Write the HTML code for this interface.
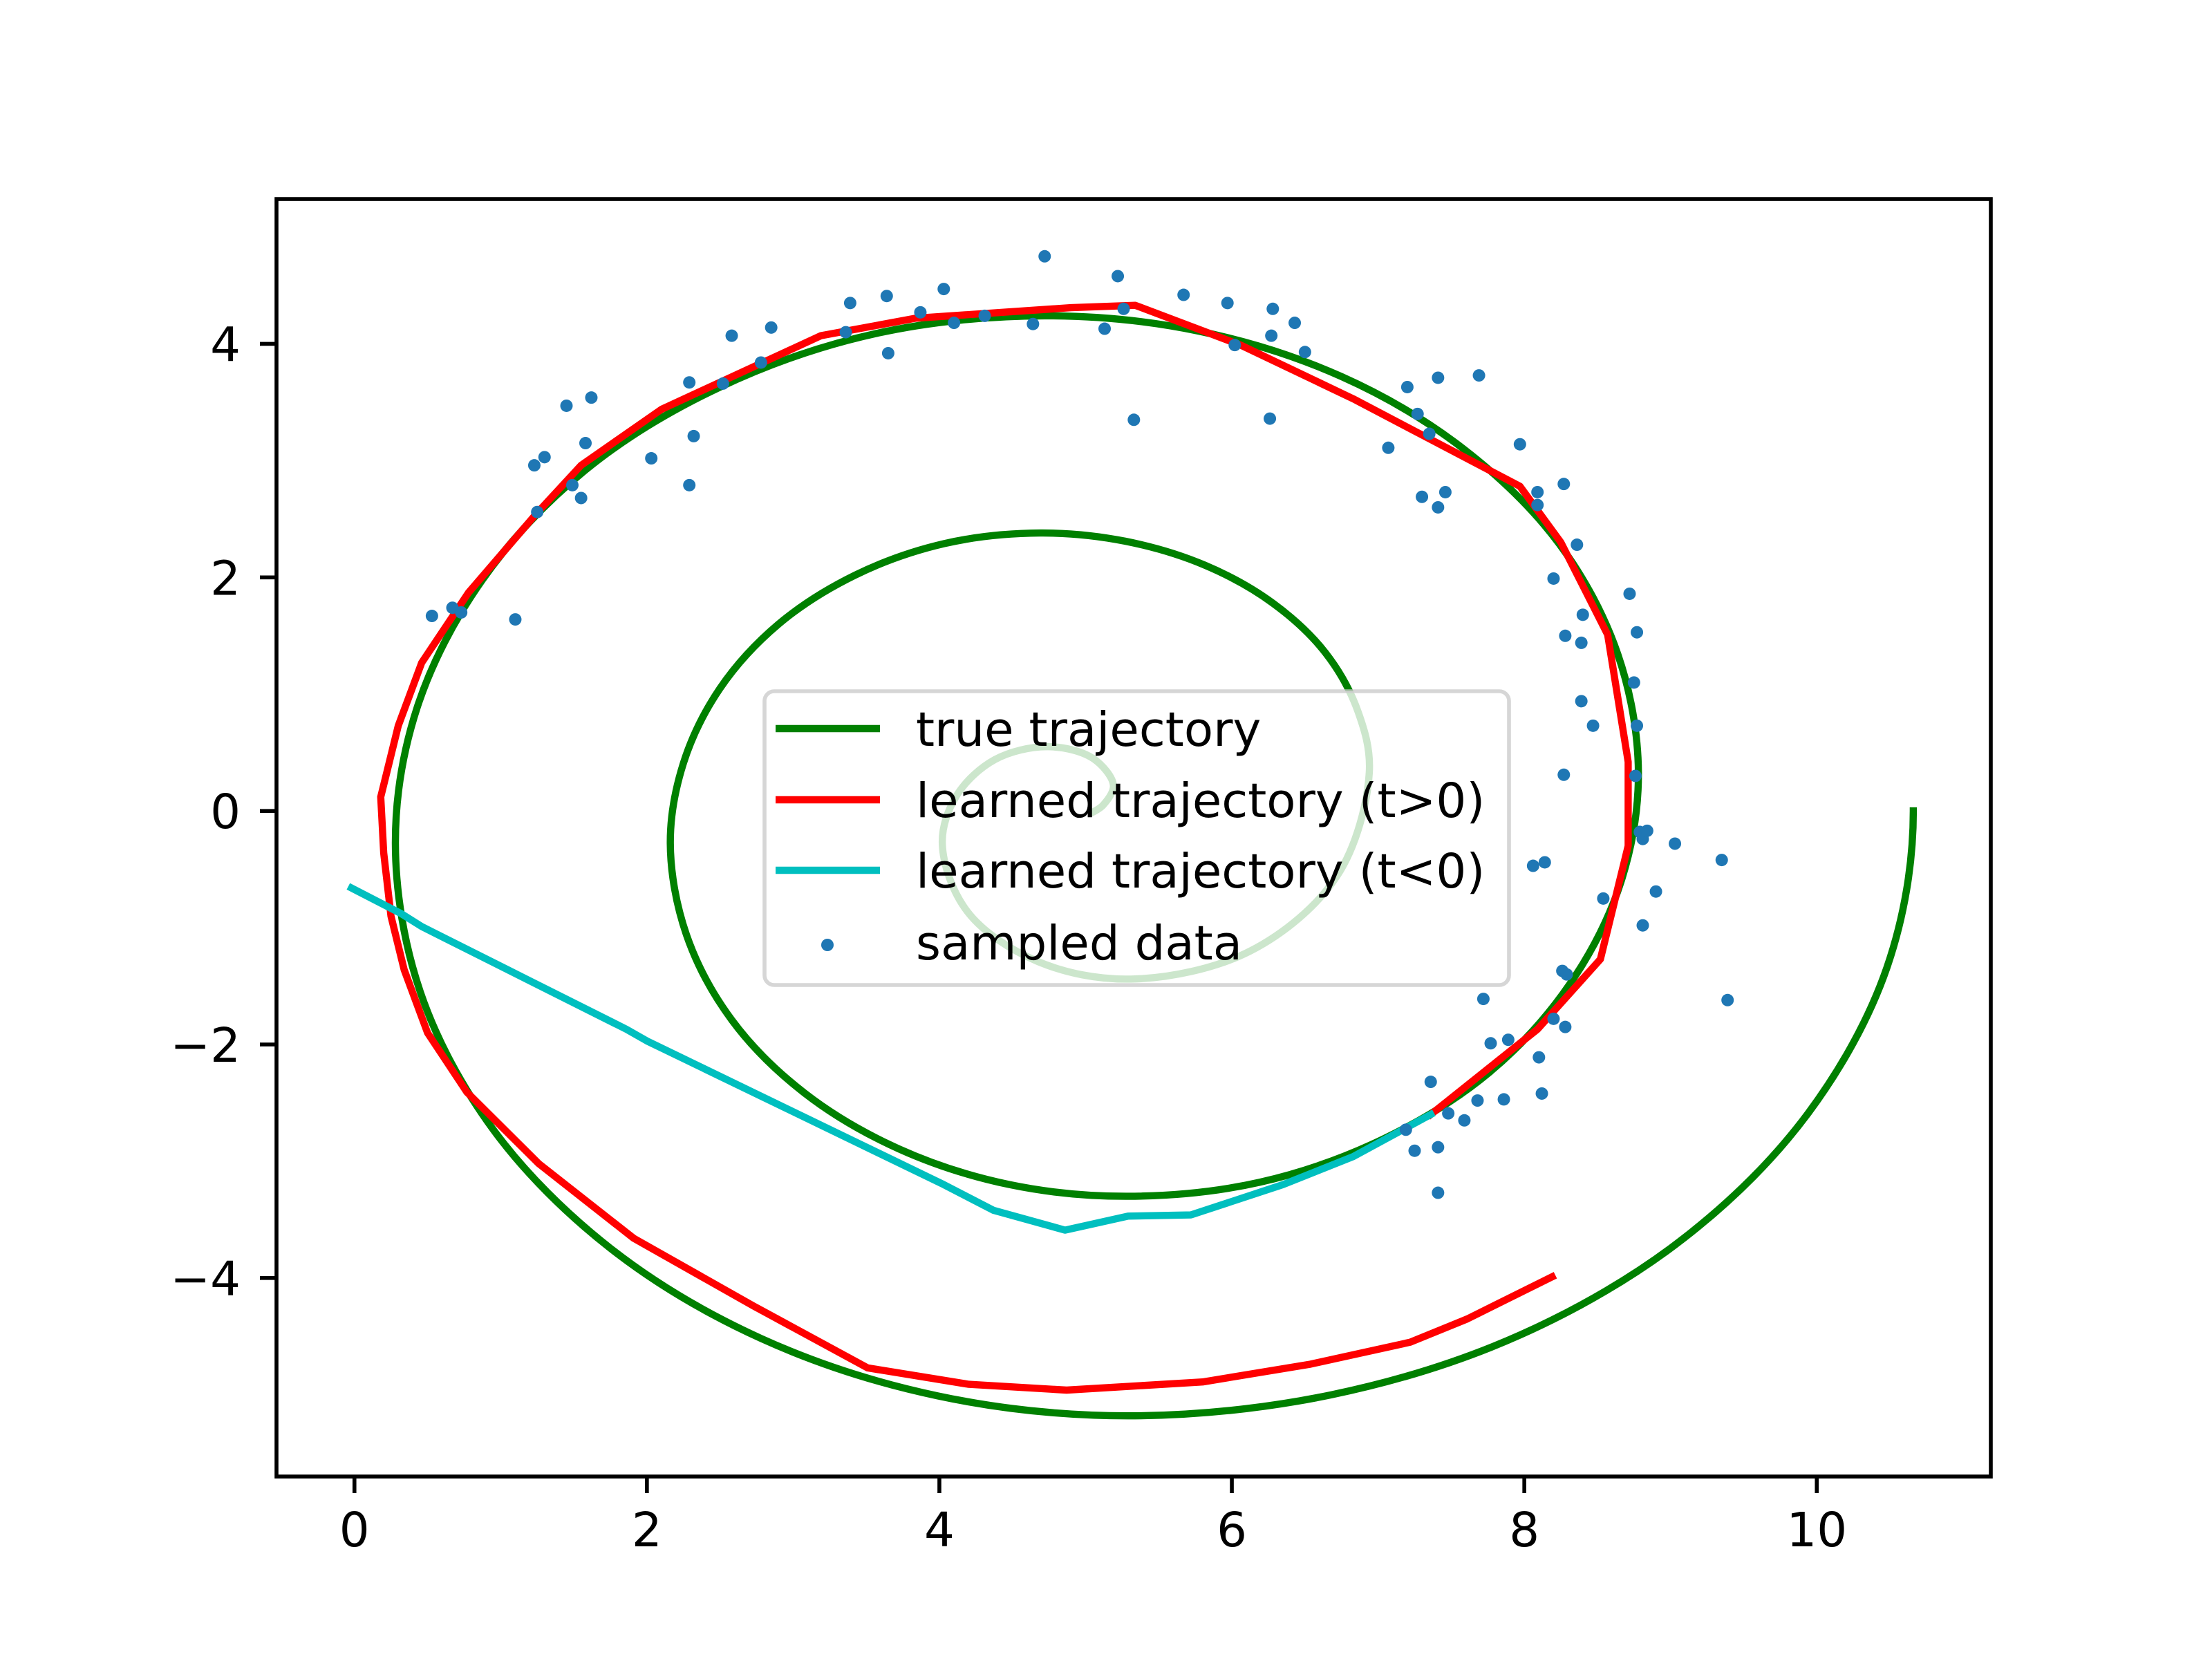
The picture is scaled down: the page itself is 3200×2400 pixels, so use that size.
<!DOCTYPE html>
<html><head><meta charset="utf-8"><style>
html,body{margin:0;padding:0;background:#fff}
svg{display:block}
text{font-family:"DejaVu Sans","Liberation Sans",sans-serif;font-size:69px;fill:#000}
</style></head><body>
<svg id="chart" xmlns="http://www.w3.org/2000/svg" width="3200" height="2400" viewBox="0 0 3200 2400">
<rect x="0" y="0" width="3200" height="2400" fill="#fff"/>
<g id="plot"></g>
<g id="axes"></g>
<g id="legend"></g>
</svg>
<script>
const xTicks=[0,2,4,6,8,10];
const yTicks=[-4,-2,0,2,4];
const trueX=[10.66,10.48,9.94,9.09,7.975,6.68,5.29,3.99,2.785,1.75,0.95,0.45,0.28,0.43,0.875,1.58,2.50,3.57,4.72,5.77,6.75,7.59,8.24,8.64,8.78,8.66,8.31,7.76,7.035,6.19,5.29,4.48,3.725,3.077,2.58,2.27,2.16,2.25,2.50,2.90,3.425,4.035,4.69,5.27,5.815,6.28,6.64,6.86,6.94,6.72,6.125,5.31,4.665,4.19,4.02,4.12,4.38,4.74,5.05,5.19,5.12,5.05];
const trueY=[0,-1.34,-2.59,-3.66,-4.486,-5.00,-5.18,-5.01,-4.52,-3.745,-2.73,-1.55,-0.28,0.89,1.98,2.92,3.63,4.09,4.24,4.11,3.72,3.095,2.285,1.34,0.33,-0.61,-1.485,-2.24,-2.81,-3.18,-3.30,-3.20,-2.895,-2.415,-1.79,-1.06,-0.28,0.41,1.05,1.60,2.02,2.29,2.38,2.31,2.105,1.78,1.355,0.86,0.33,-0.555,-1.20,-1.44,-1.285,-0.86,-0.28,0.135,0.44,0.55,0.45,0.22,0.05,-0.01];
const redX=[8.19,7.61,7.22,6.53,5.80,4.87,4.20,3.51,2.73,1.91,1.26,0.77,0.50,0.34,0.25,0.20,0.18,0.30,0.46,0.78,1.24,1.55,2.10,3.19,3.84,4.90,5.34,6.06,6.83,7.97,8.25,8.57,8.71,8.71,8.52,8.09,7.36];
const redY=[-3.99,-4.35,-4.55,-4.74,-4.89,-4.96,-4.91,-4.77,-4.24,-3.66,-3.02,-2.41,-1.90,-1.36,-0.90,-0.36,0.12,0.73,1.27,1.87,2.54,2.96,3.44,4.07,4.22,4.31,4.33,3.99,3.53,2.78,2.30,1.51,0.42,-0.30,-1.27,-1.87,-2.60];
const cyanX=[-0.02,0.32,0.46,1.86,2.0,4.03,4.37,4.86,5.29,5.72,6.35,6.83,7.36];
const cyanY=[-0.66,-0.88,-0.99,-1.87,-1.97,-3.20,-3.42,-3.59,-3.47,-3.46,-3.20,-2.96,-2.60];
const dotX=[0.53,0.67,0.73,1.10,1.23,1.30,1.25,1.45,1.49,1.55,1.58,1.62,2.03,2.29,2.32,2.29,2.52,2.58,2.78,2.85,3.39,3.36,3.64,3.65,3.87,4.03,4.10,4.31,4.64,4.72,5.13,5.22,5.26,5.33,5.67,5.97,6.02,6.27,6.26,6.28,6.43,6.50,7.07,7.20,7.27,7.35,7.30,7.41,7.41,7.46,7.69,7.97,8.09,8.09,8.27,8.36,8.20,8.28,8.39,8.40,8.39,8.47,8.72,8.75,8.77,8.77,8.76,8.27,8.79,8.81,8.84,9.03,9.35,8.14,8.06,8.54,8.90,8.81,9.39,7.72,7.77,7.89,8.26,8.29,8.28,8.20,8.10,8.12,7.86,7.68,7.59,7.48,7.36,7.19,7.25,7.41,7.41];
const dotY=[1.67,1.74,1.70,1.64,2.96,3.03,2.56,3.47,2.79,2.68,3.15,3.54,3.02,3.67,3.21,2.79,3.66,4.07,3.84,4.14,4.35,4.10,4.41,3.92,4.27,4.47,4.18,4.24,4.17,4.75,4.13,4.58,4.30,3.35,4.42,4.35,3.99,4.07,3.36,4.30,4.18,3.93,3.11,3.63,3.40,3.23,2.69,3.71,2.60,2.73,3.73,3.14,2.73,2.62,2.80,2.28,1.99,1.50,1.44,1.68,0.94,0.73,1.86,1.10,1.53,0.73,0.30,0.31,-0.18,-0.24,-0.17,-0.28,-0.42,-0.44,-0.47,-0.75,-0.69,-0.98,-1.62,-1.61,-1.99,-1.96,-1.37,-1.40,-1.85,-1.78,-2.11,-2.42,-2.47,-2.48,-2.65,-2.59,-2.32,-2.73,-2.91,-2.88,-3.27];

const NS='http://www.w3.org/2000/svg';
const L=400,R=2880,T=288,B=2136;
const xMin=-0.533,xMax=11.19,yMin=-5.70,yMax=5.24;
function sx(v){return L+(v-xMin)/(xMax-xMin)*(R-L);}
function sy(v){return B-(v-yMin)/(yMax-yMin)*(B-T);}
function mk(tag,attrs,parent){const e=document.createElementNS(NS,tag);for(const k in attrs)e.setAttribute(k,attrs[k]);parent.appendChild(e);return e;}
const plot=document.getElementById('plot'),axes=document.getElementById('axes'),leg=document.getElementById('legend');

function smoothPath(xs,ys,verticalStart){
  const p=xs.map((x,i)=>[sx(x),sy(ys[i])]);
  let d='M'+p[0][0].toFixed(1)+','+p[0][1].toFixed(1);
  const n=p.length;
  for(let i=0;i<n-1;i++){
    let p0=p[i-1],p1=p[i],p2=p[i+1],p3=p[i+2]||p[i+1];
    if(!p0){p0=verticalStart?[p2[0],2*p1[1]-p2[1]]:p1;}
    const d01=Math.max(Math.sqrt(Math.hypot(p1[0]-p0[0],p1[1]-p0[1])),1e-3);
    const d12=Math.max(Math.sqrt(Math.hypot(p2[0]-p1[0],p2[1]-p1[1])),1e-3);
    const d23=Math.max(Math.sqrt(Math.hypot(p3[0]-p2[0],p3[1]-p2[1])),1e-3);
    const m1=[0,1].map(k=>(p2[k]-p1[k]+d12*((p1[k]-p0[k])/d01-(p2[k]-p0[k])/(d01+d12))));
    const m2=[0,1].map(k=>(p2[k]-p1[k]+d12*((p3[k]-p2[k])/d23-(p3[k]-p1[k])/(d12+d23))));
    const c1=[p1[0]+m1[0]/3,p1[1]+m1[1]/3], c2=[p2[0]-m2[0]/3,p2[1]-m2[1]/3];
    d+=' C'+c1[0].toFixed(1)+','+c1[1].toFixed(1)+' '+c2[0].toFixed(1)+','+c2[1].toFixed(1)+' '+p2[0].toFixed(1)+','+p2[1].toFixed(1);
  }
  return d;
}
function polyPts(xs,ys){return xs.map((x,i)=>sx(x).toFixed(1)+','+sy(ys[i]).toFixed(1)).join(' ');}

const defs=mk('clipPath',{id:'clip'},plot);
mk('rect',{x:L,y:T,width:R-L,height:B-T},defs);
const g=mk('g',{'clip-path':'url(#clip)'},plot);

const tp=mk('path',{d:smoothPath(trueX,trueY,true),fill:'none',stroke:'#008000','stroke-width':10.4,'stroke-linejoin':'round','stroke-linecap':'square'},g);


const rp=mk('polyline',{points:polyPts(redX,redY),fill:'none',stroke:'#ff0000','stroke-width':10.4,'stroke-linejoin':'round','stroke-linecap':'square'},g);


const cp=mk('polyline',{points:polyPts(cyanX,cyanY),fill:'none',stroke:'#00bfbf','stroke-width':10.4,'stroke-linejoin':'round','stroke-linecap':'square'},g);


dotX.forEach((x,i)=>{
  const c=mk('circle',{cx:sx(x),cy:sy(dotY[i]),r:9,fill:'#1f77b4'},g);
  
  
});

const fr=mk('rect',{x:L,y:T,width:R-L,height:B-T,fill:'none',stroke:'#000','stroke-width':5.6},axes);


xTicks.forEach(v=>{
  const x=sx(v);
  const t=mk('line',{x1:x,y1:B,x2:x,y2:B+24,stroke:'#000','stroke-width':5.6},axes);
  
  
  const tx=mk('text',{x:x,y:2237,'text-anchor':'middle'},axes);
  tx.textContent=String(v);
  
  
});
yTicks.forEach(v=>{
  const y=sy(v);
  const t=mk('line',{x1:L-24,y1:y,x2:L,y2:y,stroke:'#000','stroke-width':5.6},axes);
  
  
  const tx=mk('text',{x:348,y:y+25,'text-anchor':'end'},axes);
  tx.textContent=(v<0?'\u2212':'')+Math.abs(v);
  
  
});

const box=mk('rect',{x:1106,y:1000,width:1077,height:425,rx:14,ry:14,fill:'rgba(255,255,255,0.8)',stroke:'rgba(204,204,204,0.8)','stroke-width':5.6},leg);


const entries=[['true trajectory','#008000','line',1054,'legend-entry-true'],['learned trajectory (t>0)','#ff0000','line',1157,'legend-entry-learned-forward'],['learned trajectory (t<0)','#00bfbf','line',1259,'legend-entry-learned-backward'],['sampled data','#1f77b4','dot',1363,'legend-entry-sampled']];
entries.forEach(e=>{
  const grp=mk('g',{},leg);
  
  
  if(e[2]==='line') mk('line',{x1:1122,y1:e[3],x2:1273,y2:e[3],stroke:e[1],'stroke-width':10.4},grp);
  else mk('circle',{cx:1197,cy:e[3]+4,r:9,fill:e[1]},grp);
  const t=mk('text',{x:1325,y:e[3]+25},grp);
  t.textContent=e[0];
});
</script>
</body></html>
